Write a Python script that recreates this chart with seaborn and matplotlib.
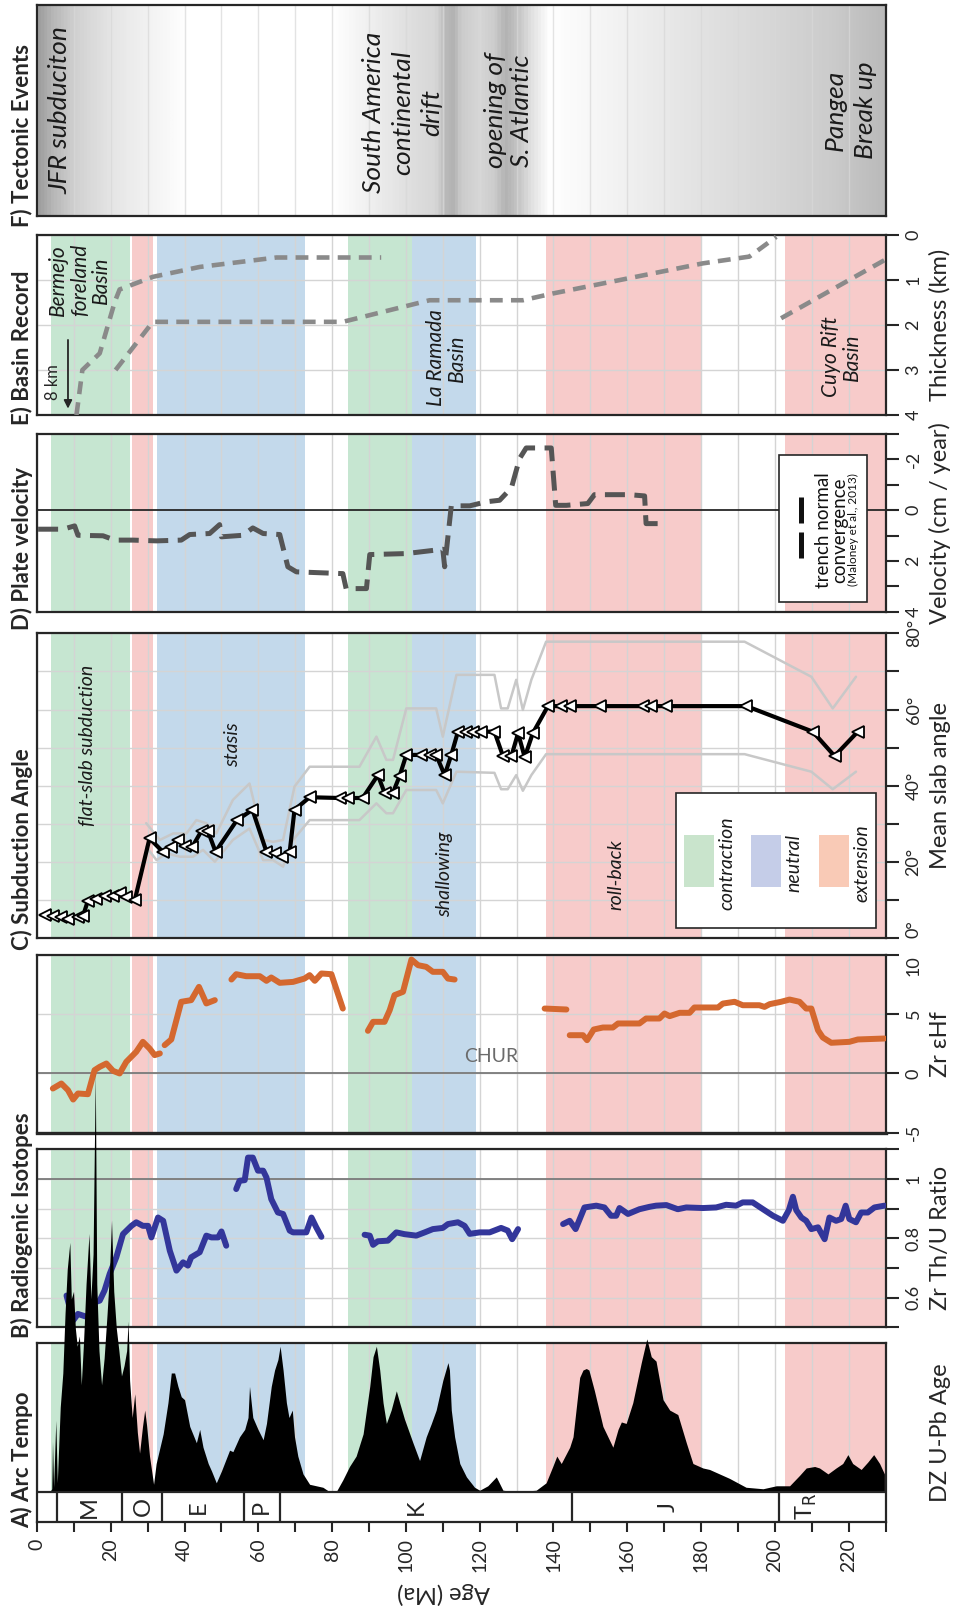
import numpy as np
import matplotlib
matplotlib.use("Agg")
import matplotlib.pyplot as plt
import seaborn as sns
from matplotlib.colors import LinearSegmentedColormap
from matplotlib.patches import Rectangle
from matplotlib.lines import Line2D

# ------------------------------------------------------------------ data
AGE_MAX = 230

# tectonic regime intervals (Ma)
contraction = [(3.9, 25.1), (84.3, 101.6)]
neutral = [(32.4, 72.7), (101.6, 119.1)]
extension = [(25.7, 31.4), (138.0, 180.0), (202.8, 230.0)]

# geologic periods
period_bounds = [0, 5.3, 23, 34, 56, 66, 145, 201, 230]
period_labels = ["M", "O", "E", "P", "K", "J", r"T$_\mathrm{R}$"]
period_label_age = [14.3, 28.7, 43.8, 60.8, 102.8, 171.0, 208.5]

age_ticks = list(range(0, 231, 10))
age_tick_labels = [str(v) if v % 20 == 0 else "" for v in age_ticks]

# F) tectonic events shading (age, grey level)
shade_age = [0, 4, 10, 20, 30, 40, 80, 90, 100, 108, 111, 113, 115, 120, 124, 127,
             130, 134, 139, 150, 175, 200, 215, 230]
shade_level = [0.62, 0.72, 0.82, 0.90, 0.95, 1.0, 1.0, 0.94, 0.88, 0.84, 0.72, 0.70,
               0.80, 0.84, 0.80, 0.70, 0.76, 0.88, 1.0, 0.97, 0.90, 0.84, 0.80, 0.73]

# E) basin record thickness (km)
bermejo_age = [10.7, 12.3, 17.0, 21.1, 22.4, 31.4, 44.1, 64.9, 93.3]
bermejo_km = [4.0, 3.0, 2.63, 1.48, 1.21, 0.93, 0.71, 0.50, 0.50]
ramada_age = [21.3, 31.4, 82.9, 106.4, 131.7, 139.8, 180.5, 193.1, 200.4]
ramada_km = [3.0, 1.93, 1.93, 1.45, 1.45, 1.30, 0.63, 0.48, 0.04]
cuyo_age = [201.7, 229.7]
cuyo_km = [1.85, 0.56]

# D) trench normal convergence velocity (cm/yr)
vel_age = [0.3, 7.05, 10.2, 11.1, 17.9, 21.1, 26.0, 32.4, 39.1, 41.4, 46.8, 49.5, 50.0,
           55.8, 58.5, 61.3, 65.8, 68.0, 70.3, 82.9, 83.8, 89.3, 90.2, 100.1, 110.0,
           110.5, 112.3, 117.3, 121.8, 125.4, 128.6, 130.8, 132.6, 136.2, 139.4, 140.6,
           143.5, 149.3, 151.1, 160.6, 164.7, 165.1, 170.6]
vel_cm = [0.75, 0.75, 0.62, 0.99, 1.01, 1.18, 1.18, 1.21, 1.18, 0.96, 0.92, 0.57, 1.05,
          0.99, 0.70, 0.92, 0.96, 2.23, 2.43, 2.50, 3.09, 3.09, 1.75, 1.71, 1.54,
          2.23, -0.17, -0.17, -0.33, -0.39, -0.88, -2.03, -2.45, -2.45, -2.45, -0.19,
          -0.19, -0.26, -0.61, -0.61, -0.56, 0.53, 0.53]

# C) mean slab angle (deg) with envelope
slab_age = [2.1, 4.3, 6.6, 8.4, 11.1, 12.5, 13.8, 16.1, 18.3, 20.6, 22.4, 24.2, 26.5,
            30.5, 34.1, 36.4, 38.2, 40.0, 42.1, 44.6, 46.3, 48.4, 54.2, 58.4, 62.2,
            64.4, 66.5, 68.5, 69.8, 73.9, 82.0, 84.3, 88.3, 92.4, 94.2, 96.5, 98.3,
            100.1, 104.2, 106.4, 108.2, 110.5, 112.3, 114.1, 116.4, 118.2, 120.4, 124.0,
            126.3, 128.6, 130.4, 132.2, 134.4, 138.5, 142.1, 144.4, 152.5, 164.2, 166.5,
            170.6, 192.3, 210.3, 216.2, 222.5]
slab_angle = [6.1, 5.8, 5.5, 5.0, 5.7, 5.9, 9.9, 10.2, 11.1, 11.1, 12.0, 10.8, 10.0,
              26.2, 22.7, 24.0, 25.8, 24.2, 24.0, 28.2, 28.2, 22.7, 31.0, 33.7, 22.7,
              22.4, 21.2, 22.7, 33.7, 37.0, 36.8, 36.8, 36.8, 42.8, 38.2, 38.2, 42.6,
              48.1, 48.1, 48.1, 48.1, 42.8, 48.1, 54.2, 54.2, 54.2, 54.2, 54.2,
              47.8, 47.8, 53.8, 47.5, 53.8, 60.9, 60.9, 60.9, 60.9, 60.9, 60.9,
              60.9, 60.9, 54.2, 47.8, 54.2]
env_age_hi = [29.6, 33.3, 36.9, 40.5, 43.2, 45.9, 48.6, 53.1, 57.6, 61.3, 64.0, 66.7,
              69.8, 73.9, 87.4, 92.0, 94.7, 96.5, 100.1, 108.2, 110.0, 113.7, 124.0,
              125.8, 127.6, 129.9, 131.7, 134.0, 138.0, 191.8, 209.9, 215.7, 222.0]
env_hi = [30.2, 25.8, 27.5, 27.5, 31.0, 30.2, 27.5, 36.3, 40.6, 25.8, 25.3, 25.8,
          39.8, 45.0, 45.0, 52.9, 46.8, 46.8, 60.3, 60.3, 52.9, 69.1, 69.1,
          60.3, 60.3, 67.8, 59.9, 67.8, 77.8, 77.8, 68.6, 60.3, 68.6]
env_age_lo = [29.6, 32.4, 35.1, 38.7, 42.3, 45.0, 48.2, 53.1, 57.6, 61.3, 64.0, 66.7,
              69.4, 73.9, 87.4, 92.0, 94.7, 96.5, 100.1, 108.2, 110.0, 113.7, 124.0,
              125.8, 127.6, 129.9, 131.7, 134.0, 138.0, 191.8, 209.9, 215.7, 222.0]
env_lo = [24.0, 20.5, 22.3, 21.4, 21.4, 23.2, 20.1, 25.8, 28.8, 20.5, 20.5, 18.8,
          25.8, 31.0, 31.0, 35.4, 32.8, 32.8, 38.9, 38.9, 35.4, 43.7, 43.4,
          39.1, 39.1, 42.8, 38.7, 42.8, 48.3, 48.3, 43.7, 39.1, 43.7]

# B) zircon eHf (age, value) segments
ehf_segments = [
    [(4.3, -1.27), (6.6, -0.85), (8.4, -1.41), (9.8, -2.2), (11.1, -1.69), (13.8, -1.75),
     (15.6, 0.28), (17.0, 0.56), (18.8, 0.84), (20.6, 0.22), (22.4, 0.0), (24.2, 0.98),
     (26.9, 1.83), (28.7, 2.67), (30.5, 2.11), (31.9, 1.55), (33.3, 1.69)],
    [(34.6, 2.39), (36.4, 2.87), (39.1, 6.05), (41.8, 6.19), (43.9, 7.31), (45.9, 5.91),
     (48.2, 6.19)],
    [(52.7, 7.93), (54.0, 8.38), (56.7, 8.21), (60.4, 8.21), (62.2, 7.82), (63.5, 8.1),
     (65.8, 7.65), (69.4, 7.73), (72.5, 8.01), (73.9, 8.3), (75.3, 7.82), (77.1, 8.44),
     (79.8, 8.38), (82.9, 5.48)],
    [(89.7, 3.6), (91.1, 4.36), (94.2, 4.36), (95.6, 5.34), (96.9, 6.61), (99.2, 6.89),
     (101.5, 9.62), (103.3, 9.14), (105.5, 9.0), (107.3, 8.58), (110.0, 8.58),
     (111.4, 8.01), (113.2, 7.93)],
    [(137.6, 5.48), (143.5, 5.4)],
    [(144.4, 3.23), (148.0, 3.23), (149.1, 2.81), (150.9, 3.71), (153.4, 3.88),
     (156.1, 3.88), (157.5, 4.22), (163.3, 4.22), (165.1, 4.64), (168.7, 4.64),
     (170.1, 5.06), (171.5, 4.84), (174.2, 5.12), (176.9, 5.12), (178.2, 5.57),
     (184.6, 5.57), (185.9, 5.9), (189.1, 6.05), (191.3, 5.76), (195.8, 5.76),
     (197.2, 5.62), (198.6, 5.85), (201.7, 6.05), (204.0, 6.24), (206.7, 6.05),
     (208.5, 5.48), (209.9, 5.48), (211.7, 3.65), (213.0, 3.04), (215.3, 2.59),
     (220.2, 2.67), (222.5, 2.87), (229.7, 2.95)],
]

# B) zircon Th/U ratio (age, value) segments
thu_segments = [
    [(8.0, 0.607), (9.8, 0.523), (11.1, 0.545), (13.8, 0.534), (15.6, 0.584), (17.0, 0.59),
     (18.3, 0.624), (19.7, 0.68), (21.5, 0.736), (23.3, 0.814), (25.6, 0.842),
     (26.9, 0.854), (28.7, 0.842), (30.1, 0.842), (31.0, 0.803), (32.8, 0.87),
     (34.2, 0.859), (36.0, 0.758), (37.8, 0.691), (39.6, 0.719), (40.9, 0.708),
     (41.8, 0.736), (44.1, 0.753), (45.9, 0.809), (47.3, 0.803), (49.1, 0.803),
     (50.0, 0.823), (51.3, 0.775)],
    [(54.0, 0.966), (54.9, 0.994), (56.3, 0.996), (57.2, 1.072), (58.5, 1.072),
     (59.9, 1.028), (61.3, 1.028), (62.2, 1.005), (63.5, 0.932), (65.3, 0.887),
     (66.7, 0.882), (68.5, 0.826), (69.4, 0.82), (73.0, 0.82), (74.4, 0.87),
     (75.7, 0.837), (77.1, 0.805)],
    [(88.8, 0.812), (90.2, 0.809), (91.1, 0.778), (92.4, 0.79), (95.1, 0.792),
     (97.4, 0.82), (99.6, 0.814), (102.8, 0.809), (105.1, 0.82), (107.3, 0.831),
     (110.0, 0.835), (111.4, 0.848), (114.1, 0.854), (115.9, 0.842), (117.3, 0.815),
     (120.0, 0.82), (122.7, 0.82), (125.8, 0.835), (127.6, 0.826), (128.8, 0.797),
     (130.4, 0.831)],
    [(142.6, 0.848), (144.4, 0.859), (146.0, 0.831), (148.4, 0.904), (151.6, 0.91),
     (153.8, 0.904), (155.6, 0.876), (157.0, 0.876), (157.9, 0.902), (160.2, 0.882),
     (163.3, 0.898), (166.0, 0.906), (167.8, 0.91), (170.6, 0.912), (173.7, 0.898),
     (176.0, 0.904), (180.5, 0.902), (184.1, 0.904), (186.8, 0.913), (189.5, 0.91),
     (191.3, 0.921), (194.0, 0.921), (196.8, 0.898), (199.5, 0.876), (202.2, 0.859),
     (203.8, 0.895), (204.9, 0.94), (205.8, 0.895), (207.2, 0.87), (208.5, 0.859),
     (209.9, 0.831), (211.7, 0.837), (213.5, 0.797), (214.8, 0.87), (216.6, 0.859),
     (218.0, 0.865), (219.2, 0.91), (220.2, 0.865), (222.0, 0.854), (223.4, 0.887),
     (225.2, 0.887), (227.0, 0.904), (229.7, 0.91)],
]

# A) detrital zircon U-Pb age density (relative)
kde_age = [3.5, 4.0, 4.2, 4.5, 5.1, 5.5, 6.3, 7.0, 7.6, 8.2, 8.9, 9.3, 9.9, 10.4, 10.9,
           11.5, 12.0, 12.6, 13.3, 14.1, 14.6, 15.2, 15.8, 16.2, 16.8, 17.5, 18.2, 19.0,
           19.6, 20.2, 20.8, 21.5, 22.2, 22.9, 23.6, 24.3, 24.7, 25.1, 25.8, 26.5, 27.2,
           27.8, 28.6, 29.2, 29.7, 30.5, 31.6, 32.3, 34.2, 35.5, 36.4, 37.3, 38.2, 39.1,
           40.0, 41.4, 43.2, 44.1, 45.0, 46.4, 47.3, 48.6, 50.0, 52.2, 53.1, 54.9, 56.3,
           57.2, 57.6, 58.5, 59.9, 61.3, 62.2, 63.5, 64.4, 65.3, 65.9, 66.7, 67.6, 68.3,
           69.2, 69.8, 70.7, 72.1, 73.9, 75.7, 77.5, 79.3, 81.1, 82.9, 84.7, 86.5, 88.4,
           90.2, 91.1, 92.0, 92.9, 93.8, 94.7, 96.0, 97.4, 98.3, 99.6, 101.9, 103.7,
           105.5, 106.9, 108.2, 110.0, 111.4, 111.8, 112.3, 113.2, 114.6, 116.4, 118.6,
           120.0, 122.2, 124.5, 126.3, 129.9, 135.3, 138.0, 139.8, 140.9, 142.1, 144.4,
           145.3, 147.1, 148.0, 148.9, 149.6, 151.1, 153.4, 156.1, 157.5, 158.4, 159.7,
           161.5, 163.8, 165.3, 166.5, 167.8, 169.7, 171.5, 173.7, 176.0, 177.8, 180.5,
           182.3, 187.7, 192.2, 196.8, 200.4, 204.0, 206.7, 208.5, 210.8, 212.1, 214.4,
           216.6, 218.4, 219.8, 221.1, 223.4, 225.2, 226.8, 228.4, 229.7]
kde_density = [0.0, 0.02, 0.34, 0.03, 0.48, 0.06, 0.57, 0.80, 1.20, 1.50, 1.68, 1.30, 1.35,
               1.10, 0.98, 1.05, 0.72, 1.00, 1.40, 1.74, 1.30, 1.60, 2.82, 1.40, 0.95,
               0.72, 0.90, 1.20, 1.45, 1.83, 1.35, 1.10, 0.95, 0.78, 0.85, 0.95, 1.15,
               0.75, 0.50, 0.66, 0.40, 0.26, 0.44, 0.55, 0.45, 0.24, 0.05, 0.19, 0.39,
               0.60, 0.80, 0.80, 0.71, 0.64, 0.62, 0.44, 0.33, 0.42, 0.30, 0.19, 0.14,
               0.06, 0.14, 0.28, 0.27, 0.37, 0.42, 0.50, 0.71, 0.50, 0.42, 0.35, 0.46,
               0.71, 0.82, 0.89, 0.98, 0.82, 0.60, 0.50, 0.55, 0.37, 0.24, 0.12, 0.05,
               0.04, 0.03, 0.0, 0.0, 0.08, 0.17, 0.24, 0.39, 0.71, 0.91, 0.98, 0.82,
               0.60, 0.46, 0.55, 0.68, 0.60, 0.49, 0.33, 0.21, 0.37, 0.46, 0.55, 0.75,
               0.87, 0.82, 0.55, 0.37, 0.19, 0.10, 0.03, 0.01, 0.04, 0.10, 0.01, 0.0,
               0.01, 0.06, 0.17, 0.24, 0.19, 0.30, 0.37, 0.77, 0.82, 0.83, 0.82, 0.68,
               0.44, 0.30, 0.42, 0.47, 0.46, 0.60, 0.87, 1.03, 0.91, 0.88, 0.62, 0.55,
               0.52, 0.33, 0.19, 0.16, 0.15, 0.09, 0.03, 0.02, 0.04, 0.04, 0.11, 0.16,
               0.17, 0.16, 0.12, 0.16, 0.19, 0.25, 0.19, 0.15, 0.20, 0.25, 0.19, 0.12]

# ------------------------------------------------------------------ style
sns.set_theme(style="white")
plt.rcParams["font.family"] = ["Lato", "DejaVu Sans"]
plt.rcParams["axes.unicode_minus"] = False
plt.rcParams["mathtext.fontset"] = "dejavusans"

FRAME = "#262626"
GRID = "#d4d4d4"
INK = "#1a1a1a"
C_CON = "#c6e6d1"
C_NEU = "#c3d9eb"
C_EXT = "#f7cbca"
ORANGE = "#d4682f"
BLUE = "#33369a"

W, H = 957, 1612
X0, X1 = 37.0, 885.5
LABEL_X = (940 - X0) / (X1 - X0)

fig = plt.figure(figsize=(W / 100, H / 100), dpi=100)


def add_panel(top, bottom):
    ax = fig.add_axes([X0 / W, 1 - bottom / H, (X1 - X0) / W, (bottom - top) / H])
    ax.set_xlim(0, AGE_MAX)
    ax.set_xticks(age_ticks)
    ax.tick_params(axis="x", bottom=False, labelbottom=False)
    ax.grid(axis="x", color=GRID, lw=1.0)
    ax.set_axisbelow(True)
    for sp in ax.spines.values():
        sp.set_color(FRAME)
        sp.set_linewidth(1.6)
    return ax


def shade_regimes(ax, ymin=0.0):
    for intervals, col in ((contraction, C_CON), (neutral, C_NEU), (extension, C_EXT)):
        for a, b in intervals:
            ax.axvspan(a, b, ymin=ymin, ymax=1, color=col, lw=0, zorder=0.2)


def value_axis(ax, ticks, labels, title, lim, grid=True):
    ax.set_ylim(*lim)
    ax.set_yticks(ticks)
    ax.set_yticklabels(labels)
    ax.yaxis.tick_right()
    ax.tick_params(axis="y", which="both", right=True, left=False, labelright=True,
                   labelleft=False, labelrotation=90, length=9.5, width=1.5, pad=5,
                   labelsize=13, color=FRAME, labelcolor=FRAME)
    for lab in ax.get_yticklabels():
        lab.set_verticalalignment("center")
    ax.yaxis.set_label_position("right")
    ax.set_ylabel(title, fontsize=17, color=FRAME)
    ax.yaxis.set_label_coords(LABEL_X, 0.5)
    ax.yaxis.label.set(rotation=90, va="center", ha="center")
    if grid:
        ax.grid(axis="y", color=GRID, lw=1.0)


def panel_title(text, y_bottom):
    fig.text(22 / W, 1 - y_bottom / H, text, rotation=90, ha="center", va="bottom",
             fontsize=16, fontweight="bold", color=FRAME)


def note(ax, x, y, text, size=14, **kw):
    ax.text(x, y, text, rotation=90, ha="center", va="center", fontsize=size,
            fontstyle="italic", color=INK, multialignment="center", zorder=6, **kw)


def line(ax, xs, ys, **kw):
    sns.lineplot(x=xs, y=ys, ax=ax, sort=False, estimator=None, **kw)


# ------------------------------------------------------------------ F) tectonic events
axF = add_panel(5, 216)
shade_cmap = LinearSegmentedColormap.from_list(
    "tect", [(a / AGE_MAX, str(v)) for a, v in zip(shade_age, shade_level)])
axF.imshow(np.linspace(0, 1, 920)[None, :], extent=[0, AGE_MAX, 0, 1], aspect="auto",
           cmap=shade_cmap, vmin=0, vmax=1, zorder=0.1)
axF.set_xlim(0, AGE_MAX)
axF.set_ylim(0, 1)
axF.set_yticks([])
axF.grid(axis="x", color="#d8d8d8", lw=1.0, alpha=0.7)
note(axF, 6.2, 0.50, "JFR subduciton", size=19)
note(axF, 99.1, 0.49, "South America\ncontinental\ndrift", size=19, linespacing=1.3)
note(axF, 127.9, 0.50, "opening of\nS. Atlantic", size=19, linespacing=1.15)
note(axF, 220.5, 0.50, "Pangea\nBreak up", size=19, linespacing=1.35)
panel_title("F) Tectonic Events", 227)

# ------------------------------------------------------------------ E) basin record
axE = add_panel(235, 415)
shade_regimes(axE)
for xs, ys in ((bermejo_age, bermejo_km), (ramada_age, ramada_km), (cuyo_age, cuyo_km)):
    line(axE, xs, ys, color="#8a8a8a", lw=3.3, linestyle=(0, (2.8, 1.8)), zorder=3)
value_axis(axE, [0, 1, 2, 3, 4], ["0", "1", "2", "3", "4"], "Thickness (km)", (4, 0))
axE.annotate("", xy=(8.4, 3.92), xytext=(8.4, 2.27),
             arrowprops=dict(arrowstyle="-|>", color=FRAME, lw=1.3, mutation_scale=12))
axE.text(4.3, 3.27, "8 km", rotation=90, ha="center", va="center", fontsize=12,
         color=FRAME)
note(axE, 11.6, 1.0, "Bermejo\nforeland\nBasin", size=15, linespacing=1.1)
note(axE, 111.0, 2.73, "La Ramada\nBasin", size=15, linespacing=1.1)
note(axE, 218.1, 2.71, "Cuyo Rift\nBasin", size=15, linespacing=1.1)
panel_title("E) Basin Record", 425)

# ------------------------------------------------------------------ D) plate velocity
axD = add_panel(434, 611.7)
shade_regimes(axD)
axD.axhline(0, color=FRAME, lw=1.3, zorder=1)
line(axD, vel_age, vel_cm, color="#555555", lw=3.6, linestyle=(0, (4.0, 1.9)), zorder=3)
value_axis(axD, list(range(-3, 5)), ["", "-2", "", "0", "", "2", "", "4"],
           "Velocity (cm / year)", (4, -3), grid=False)
axD.add_patch(Rectangle((0.8745, 0.056), 0.104, 0.826, transform=axD.transAxes,
                        fc="white", ec=FRAME, lw=1.2, zorder=5))
axD.add_line(Line2D([0.9004, 0.9004], [0.302, 0.645], transform=axD.transAxes,
                    color="#111111", lw=3.6, linestyle=(0, (5.2, 1.8)), zorder=6))
axD.text(0.9365, 0.46, "trench normal\nconvergence", transform=axD.transAxes,
         rotation=90, ha="center", va="center", fontsize=13.5, linespacing=0.9,
         color="#111111", zorder=6)
axD.text(0.962, 0.46, "(Maloney et al., 2013)", transform=axD.transAxes, rotation=90,
         ha="center", va="center", fontsize=8.5, color="#111111", zorder=6)
panel_title("D) Plate velocity", 630)

# ------------------------------------------------------------------ C) subduction angle
axC = add_panel(633.3, 938.3)
shade_regimes(axC)
line(axC, env_age_hi, env_hi, color="#c8c8c8", lw=1.8, zorder=2)
line(axC, env_age_lo, env_lo, color="#c8c8c8", lw=1.8, zorder=2)
line(axC, slab_age, slab_angle, color="black", lw=3.0, marker="<", markersize=9,
     markerfacecolor="white", markeredgecolor="black", markeredgewidth=1.3, zorder=4)
value_axis(axC, list(range(0, 81, 10)),
           ["0°", "", "20°", "", "40°", "", "60°", "", "80°"], "Mean slab angle", (0, 80))
axC.get_yticklabels()[0].set_verticalalignment("bottom")
note(axC, 13.8, 50.7, "flat-slab subduction")
note(axC, 53.0, 50.7, "stasis")
note(axC, 110.5, 16.9, "shallowing")
note(axC, 157.0, 16.6, "roll-back")
axC.add_patch(Rectangle((0.753, 0.033), 0.236, 0.444, transform=axC.transAxes,
                        fc="white", ec=FRAME, lw=1.2, zorder=5))
for x0, col, lab in ((0.763, "#c9e4cc", "contraction"), (0.842, "#c5cde8", "neutral"),
                     (0.922, "#f9cab6", "extension")):
    axC.add_patch(Rectangle((x0, 0.169), 0.035, 0.170, transform=axC.transAxes,
                            fc=col, ec="none", zorder=6))
    axC.text(x0 + 0.050, 0.247, lab, transform=axC.transAxes, rotation=90, ha="center",
             va="center", fontsize=14, fontstyle="italic", color=INK, zorder=6)
panel_title("C) Subduction Angle", 950)

# ------------------------------------------------------------------ B) radiogenic isotopes
axH = add_panel(955, 1132.7)
shade_regimes(axH)
axH.axhline(0, color="#7a7a7a", lw=1.3, zorder=1)
for seg in ehf_segments:
    line(axH, [a for a, _ in seg], [v for _, v in seg], color=ORANGE, lw=4.3,
         solid_capstyle="round", zorder=3)
value_axis(axH, [-5, 0, 5, 10], ["-5", "0", "5", "10"], "Zr εHf", (-5, 10))
axH.get_yticklabels()[-1].set_verticalalignment("top")
axH.text(123.0, 1.46, "CHUR", color="#6b6b6b", fontsize=14, ha="center", va="center",
         zorder=4)
axH.spines["bottom"].set_linewidth(2.4)

axT = add_panel(1149.3, 1327.3)
shade_regimes(axT)
axT.axhline(1.0, color="#7a7a7a", lw=1.3, zorder=1)
for seg in thu_segments:
    line(axT, [a for a, _ in seg], [v for _, v in seg], color=BLUE, lw=4.3,
         solid_capstyle="round", zorder=3)
value_axis(axT, [0.5, 0.6, 0.7, 0.8, 0.9, 1.0, 1.1], ["", "0.6", "", "0.8", "", "1", ""],
           "Zr Th/U Ratio", (0.5, 1.1))
panel_title("B) Radiogenic Isotopes", 1338)

# ------------------------------------------------------------------ A) arc tempo
STRIP = 0.202
axA = add_panel(1343.3, 1521.7)
axA.set_zorder(5)
axA.patch.set_alpha(0)
axA.set_ylim(-STRIP, 1.0)
shade_regimes(axA, ymin=STRIP / (1 + STRIP))
axA.add_patch(Rectangle((0, -STRIP), AGE_MAX, STRIP, fc="white", ec="none", zorder=1))
axA.fill_between(kde_age, 0, kde_density, color="black", lw=0, zorder=3, clip_on=False)
axA.axhline(0, color=FRAME, lw=1.6, zorder=4)
axA.vlines(period_bounds[1:-1], -STRIP, 0, color=FRAME, lw=1.6, zorder=4)
for x, lab in zip(period_label_age, period_labels):
    axA.text(x, -STRIP / 2, lab, rotation=90, ha="center", va="center", fontsize=17,
             color=FRAME, zorder=5)
axA.set_yticks([])
axA.yaxis.set_label_position("right")
axA.set_ylabel("DZ U-Pb Age", fontsize=17, color=FRAME)
axA.yaxis.set_label_coords(LABEL_X, 0.5)
axA.yaxis.label.set(rotation=90, va="center", ha="center")
axA.set_xticks(age_ticks)
axA.set_xticklabels(age_tick_labels)
axA.tick_params(axis="x", bottom=True, labelbottom=True, labelrotation=90, length=7,
                width=1.5, pad=5, labelsize=14, color=FRAME, labelcolor=FRAME)
axA.set_xlabel("Age (Ma)", fontsize=17, color=FRAME)
axA.xaxis.set_label_coords((443 - X0) / (X1 - X0), (1521.7 - 1593) / 178.4)
axA.xaxis.label.set(rotation=180, va="center", ha="center")
panel_title("A) Arc Tempo", 1528)

fig.savefig("out.png", dpi=100)
